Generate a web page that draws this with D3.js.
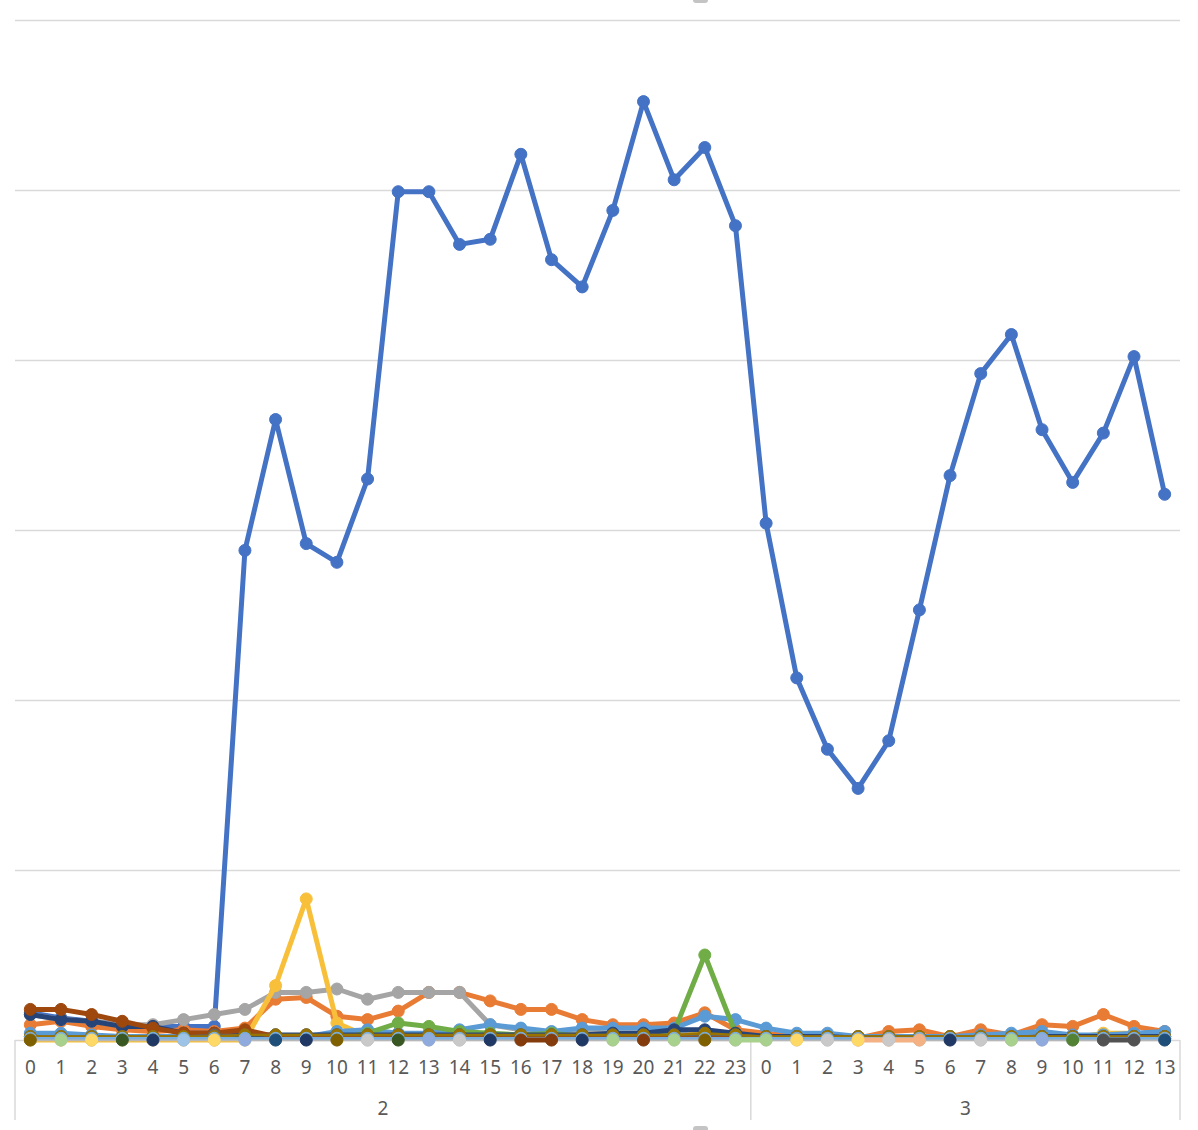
<!DOCTYPE html>
<html><head><meta charset="utf-8">
<script src="https://cdn.jsdelivr.net/npm/d3@7"></script>
<style>body{margin:0;background:#fff}svg{display:block}</style>
</head><body>
<svg id="chart" width="1198" height="1130"></svg>
<script>
// ---------- DATA ----------
const hourLabels = ["0","1","2","3","4","5","6","7","8","9","10","11","12","13","14","15","16","17","18","19","20","21","22","23",
                    "0","1","2","3","4","5","6","7","8","9","10","11","12","13"];
const dayLabels = ["2","3"];
const daySizes = [24, 14];
const yTicks = [0,100,200,300,400,500,600];
const _ = null;

const s1  = [16,13,11,9,8,8,8,288,365,292,281,330,499,499,468,471,521,459,443,488,552,506,525,479, 304,213,171,148,176,253,332,392,415,359,328,357,402,321];
const s2  = [9,11,8,6,5,6,5,7,24,25,14,12,17,28,28,23,18,18,12,9,9,10,16,6, 4,2,2,1,5,6,2,6,3,9,8,15,8,5];
const s3  = [15,12,11,9,9,12,15,18,28,28,30,24,28,28,28,9,6,4,5,4,4,4,3,2, 1,1,1,1,1,1,1,1,1,1,1,1,1,1];
const s4  = [0,0,0,0,0,0,0,0,32,83,10,2,1,1,1,1,1,1,1,1,1,1,5,1, 1,1,1,1,1,1,1,1,1,1,1,4,4,2];
const s5  = [4,4,3,2,2,2,2,2,2,2,5,6,4,4,6,9,7,5,7,7,7,7,14,12, 7,4,4,2,2,2,2,3,4,5,3,3,4,5];
const s6  = [1,1,1,1,1,1,1,1,1,1,1,4,10,8,5,4,3,4,2,2,2,5,50,4, 1,1,1,1,1,1,1,1,1,1,1,1,1,1];
const s7  = [15,12,11,8,8,4,4,3,3,3,3,3,3,3,3,3,3,3,3,4,4,6,6,4, 2,2,2,1,1,1,1,1,1,2,2,2,2,2];
const s8  = [18,18,15,11,7,4,4,6,2,1,1,1,1,1,1,1,1,1,1,1,1,1,1,1, 1,1,1,1,1,1,1,1,1,1,1,1,1,1];
const s9  = [2,2,2,2,2,2,3,3,3,3,3,3,3,3,3,3,3,3,3,3,3,3,3,3, 2,2,2,2,2,2,2,2,2,2,2,2,2,2];
const s10 = [2,2,2,2,2,2,2,3,3,3,3,3,3,3,3,3,3,3,3,3,3,3,4,3, 2,2,2,2,2,2,2,2,2,2,2,2,2,2];
const s15 = [0,0,0,0,0,0,0,0,0,0,0,0,0,0,0,0,0,0,0,0,0,0,0,0, 0,0,0,0,0,0,0,0,0,0,0,0,0,0];
const s17 = [1,1,1,1,1,1,1,1,1,1,1,1,1,1,1,1,1,1,1,1,1,1,1,1, 1,1,1,1,1,1,1,1,1,1,1,1,1,1];
const s24 = [_,_,_,_,_,_,_,_,_,_,_,_,_,_,_,_,_,_,_,_,_,_,_,_, _,_,_,_,_,_,_,_,_,_,0,_,_,_];
const s25 = [_,_,_,_,_,_,_,0,_,_,_,_,_,0,_,_,_,_,_,_,_,_,_,_, _,_,_,_,_,_,_,_,_,0,_,_,_,_];
const s26 = [_,_,_,_,_,_,_,_,_,_,_,_,_,_,_,_,_,_,_,_,_,_,_,_, _,_,_,0,0,0,_,_,_,_,_,_,_,_];
const s27 = [_,_,_,_,_,_,_,_,_,_,_,0,_,_,0,_,_,_,_,_,_,_,_,_, _,_,0,_,0,_,_,0,_,_,_,_,_,_];
const s28 = [_,_,0,_,_,_,0,_,_,_,_,_,_,_,_,_,_,_,_,_,_,_,_,_, _,0,_,0,_,_,_,_,_,_,_,_,_,_];
const s29 = [_,_,_,_,_,0,_,_,_,_,_,_,_,_,_,_,_,_,_,_,_,_,_,_, _,_,_,_,_,_,_,_,_,_,_,_,_,_];
const s30 = [_,0,_,_,_,_,_,_,_,_,_,_,_,_,_,_,_,_,_,0,_,0,_,0, 0,_,_,_,_,_,_,_,0,_,_,_,_,_];
const s31 = [_,_,_,_,0,_,_,_,_,0,_,_,_,_,_,0,_,_,0,_,_,_,_,_, _,_,_,_,_,_,0,_,_,_,_,_,_,_];
const s32 = [_,_,_,_,_,_,_,_,_,_,_,_,_,_,_,_,0,0,_,_,0,_,_,_, _,_,_,_,_,_,_,_,_,_,_,_,_,_];
const s33 = [_,_,_,_,_,_,_,_,_,_,_,_,_,_,_,_,_,_,_,_,_,_,_,_, _,_,_,_,_,_,_,_,_,_,_,0,0,_];
const s34 = [0,_,_,_,_,_,_,_,_,_,0,_,_,_,_,_,_,_,_,_,_,_,0,_, _,_,_,_,_,_,_,_,_,_,_,_,_,_];
const s35 = [_,_,_,_,_,_,_,_,0,_,_,_,_,_,_,_,_,_,_,_,_,_,_,_, _,_,_,_,_,_,_,_,_,_,_,_,_,0];
const s36 = [_,_,_,0,_,_,_,_,_,_,_,_,0,_,_,_,_,_,_,_,_,_,_,_, _,_,_,_,_,_,_,_,_,_,_,_,_,_];

const seriesList = [
  {n:1,v:s1},{n:2,v:s2},{n:3,v:s3},{n:4,v:s4},{n:5,v:s5},{n:6,v:s6},
  {n:7,v:s7},{n:8,v:s8},{n:9,v:s9},{n:10,v:s10},{n:15,v:s15},{n:17,v:s17},
  {n:24,v:s24},{n:25,v:s25},{n:26,v:s26},{n:27,v:s27},{n:28,v:s28},{n:29,v:s29},
  {n:30,v:s30},{n:31,v:s31},{n:32,v:s32},{n:33,v:s33},{n:34,v:s34},{n:35,v:s35},{n:36,v:s36}
];

// ---------- STYLE ----------
const palette = [
  "#4472C4","#E97C35","#A5A5A5","#F8C03A","#5B9BD5","#70AD47",
  "#264478","#9E480E","#636363","#997300","#255E91","#43682B",
  "#698ED0","#F1975A","#B7B7B7","#FFCD33","#7CAFDD","#8CC168",
  "#2F5597","#C55A11","#7B7B7B","#BF9000","#2E75B6","#548235",
  "#8FAADC","#F4B183","#C9C9C9","#FFD966","#9DC3E6","#A9D18E",
  "#203864","#843C0C","#525252","#7F6000","#1F4E79","#385723"
];
const thinSeries = new Set([9,10,15,17]);
const plot = {left:15, right:1180, top:20, bottom:1040};
const gridColor = "#D9D9D9";
const textColor = "#595959";
const font = "'Noto Sans', 'Open Sans', sans-serif";

const svg = d3.select("#chart");
const idx = d3.range(hourLabels.length);
const x = d3.scaleBand().domain(idx).range([plot.left, plot.right]).padding(0);
const xc = i => x(i) + x.bandwidth()/2;
const y = d3.scaleLinear().domain([0,600]).range([plot.bottom, plot.top]);

// gridlines
const grid = svg.append("g").attr("transform",`translate(${plot.left},0)`)
  .call(d3.axisLeft(y).tickValues(yTicks).tickSize(-(plot.right-plot.left)).tickFormat(""));
grid.select(".domain").remove();
grid.selectAll("line").attr("stroke",gridColor).attr("stroke-width",1.5);

// x axis (hours)
const xAxis = svg.append("g").attr("transform",`translate(0,${plot.bottom})`)
  .call(d3.axisBottom(x).tickSize(0).tickPadding(0).tickFormat(i => hourLabels[i]));
xAxis.select(".domain").remove();
xAxis.selectAll("text").attr("y",34).attr("dy",0)
  .style("font-family",font).style("font-size","19px").attr("fill",textColor);

// group separators and labels
let start = 0;
const sepXs = [plot.left];
daySizes.forEach((sz,k) => {
  const x0 = x(start), x1 = x(start+sz-1) + x.bandwidth();
  svg.append("text").attr("x",(x0+x1)/2).attr("y",1115).attr("text-anchor","middle")
    .style("font-family",font).style("font-size","19px").attr("fill",textColor).text(dayLabels[k]);
  sepXs.push(x1);
  start += sz;
});
sepXs.forEach(sx => {
  svg.append("line").attr("x1",sx).attr("x2",sx)
    .attr("y1", plot.bottom).attr("y2",1120)
    .attr("stroke",gridColor).attr("stroke-width",1.5);
});

// series
const line = d3.line().defined(d => d.v !== null).x(d => xc(d.i)).y(d => y(d.v));
seriesList.forEach(s => {
  const col = palette[s.n-1];
  const pts = s.v.map((v,i)=>({i,v}));
  const g = svg.append("g");
  g.append("path").datum(pts).attr("d",line).attr("fill","none")
    .attr("stroke",col).attr("stroke-width", thinSeries.has(s.n) ? 2.5 : 5)
    .attr("stroke-linejoin","round").attr("stroke-linecap","round");
  g.selectAll("circle").data(pts.filter(d=>d.v!==null)).join("circle")
    .attr("cx",d=>xc(d.i)).attr("cy",d=>y(d.v)).attr("r",6)
    .attr("fill",col).attr("stroke",col).attr("stroke-width",1);
});

// small handles (cut-off marks) at top and bottom
svg.append("rect").attr("x",693).attr("y",-5).attr("width",15).attr("height",8).attr("rx",3).attr("fill","#c4c4c4");
svg.append("rect").attr("x",693).attr("y",1126).attr("width",15).attr("height",8).attr("rx",3).attr("fill","#c4c4c4");
</script>
</body></html>
